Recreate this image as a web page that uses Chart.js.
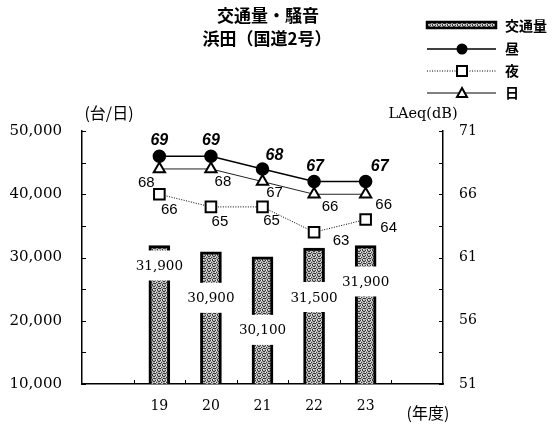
<!DOCTYPE html>
<html>
<head>
<meta charset="utf-8">
<script src="https://cdn.jsdelivr.net/npm/chart.js@4"></script>
<style>
  html, body { margin: 0; padding: 0; background: #fff; }
  #wrap { width: 555px; height: 427px; }
</style>
</head>
<body>
<div id="wrap"><canvas id="grafico"></canvas></div>
<script>
// data
const years = [19, 20, 21, 22, 23]
const traffic = [31900, 30900, 30100, 31500, 31900]
const noonDb = [69, 69, 68, 67, 67]     // 昼
const nightDb = [66, 65, 65, 63, 64]    // 夜
const dayDb = [68, 68, 67, 66, 66]      // 日
const leftTicks = [10000, 20000, 30000, 40000, 50000]
const rightTicks = [51, 56, 61, 66, 71]

// label placement (pixels, relative to the mark)
const barLabelDrop = [20, 46, 73, 49, 36]
const noonOff = [[0, -16], [0, -16], [12, -13], [1, -15], [14, -15]]
const dayOff = [[-13, 14], [12, 13], [12, 11], [16, 13], [18, 11]]
const nightOff = [[10, 16], [9, 15], [9, 14], [27, 9], [23, 8]]

const serif = "'DejaVu Serif', 'Liberation Serif', serif"
const sans = "'Liberation Sans', Arial, sans-serif"
const cjk = "'Noto Sans CJK JP', 'Noto Sans', sans-serif"

function stipple(ctx) {
  const c = document.createElement('canvas')
  c.width = 5; c.height = 5
  const g = c.getContext('2d')
  g.fillStyle = '#b4b4b4'
  g.fillRect(0, 0, 5, 5)
  g.fillStyle = '#3a3a3a'
  ;[[0, 0], [3, 1], [1, 2], [4, 3], [2, 4], [2, 0], [4, 1], [0, 3], [3, 3]].forEach(p => g.fillRect(p[0], p[1], 1, 1))
  g.fillStyle = '#eee'
  ;[[1, 0], [0, 2], [3, 4]].forEach(p => g.fillRect(p[0], p[1], 1, 1))
  return ctx.createPattern(c, 'repeat')
}

const extras = {
  id: 'extras',
  afterDatasetsDraw(chart) {
    const ctx = chart.ctx
    const x = chart.scales.x, y = chart.scales.y, y2 = chart.scales.y2
    const area = chart.chartArea
    ctx.save()
    ctx.strokeStyle = '#000'
    ctx.lineWidth = 1
    // inward tick marks
    for (let v = 10000; v <= 50000; v += 5000) {
      const py = Math.round(y.getPixelForValue(v)) + 0.5
      ctx.beginPath(); ctx.moveTo(area.left, py); ctx.lineTo(area.left + 4, py); ctx.stroke()
    }
    for (let v = 51; v <= 71; v += 2.5) {
      const py = Math.round(y2.getPixelForValue(v)) + 0.5
      ctx.beginPath(); ctx.moveTo(area.right, py); ctx.lineTo(area.right - 4, py); ctx.stroke()
    }
    for (let v = 18.5; v <= 23.5; v += 1) {
      const px = Math.round(x.getPixelForValue(v)) + 0.5
      ctx.beginPath(); ctx.moveTo(px, area.bottom); ctx.lineTo(px, area.bottom - 4); ctx.stroke()
    }

    // bar value labels on white boxes
    ctx.font = '13.5px ' + serif
    ctx.textAlign = 'center'
    ctx.textBaseline = 'middle'
    chart.getDatasetMeta(0).data.forEach((bar, i) => {
      const ty = bar.y + barLabelDrop[i]
      const txt = traffic[i].toLocaleString('en-US')
      const w = ctx.measureText(txt).width
      ctx.fillStyle = '#fff'
      ctx.fillRect(bar.x - w / 2 - 2, ty - 15, w + 4, 30)
      ctx.fillStyle = '#000'
      ctx.fillText(txt, bar.x, ty + 1)
    })

    // line value labels
    const put = (idx, vals, offs, font) => {
      ctx.font = font
      chart.getDatasetMeta(idx).data.forEach((pt, i) => {
        ctx.fillText(String(vals[i]), pt.x + offs[i][0], pt.y + offs[i][1])
      })
    }
    ctx.fillStyle = '#000'
    put(1, noonDb, noonOff, 'italic bold 16px ' + sans)
    put(2, nightDb, nightOff, '15px ' + sans)
    put(3, dayDb, dayOff, '15px ' + sans)

    // titles
    ctx.font = 'bold 17px ' + cjk
    ctx.fillText('交通量・騒音', 268, 16)
    ctx.fillText('浜田（国道2号）', 267, 39)
    ctx.font = '16px ' + cjk
    ctx.fillText('(台/日)', 109, 113)
    ctx.fillText('(年度)', 428, 413)
    ctx.font = '14.5px ' + serif
    ctx.fillText('LAeq(dB)', 423, 114)

    // legend
    const lx0 = 427, lx1 = 496, lm = 462, tx = 505
    ctx.fillStyle = stipple(ctx)
    ctx.fillRect(lx0, 22, lx1 - lx0, 6)
    ctx.lineWidth = 2.5
    ctx.strokeRect(lx0, 22, lx1 - lx0, 6)
    ctx.lineWidth = 1.5
    ctx.beginPath(); ctx.moveTo(lx0, 49); ctx.lineTo(lx1, 49); ctx.stroke()
    ctx.fillStyle = '#000'
    ctx.beginPath(); ctx.arc(lm, 49, 5.5, 0, Math.PI * 2); ctx.fill()
    ctx.lineWidth = 1
    ctx.setLineDash([1, 1.5])
    ctx.beginPath(); ctx.moveTo(lx0, 71); ctx.lineTo(lx1, 71); ctx.stroke()
    ctx.setLineDash([])
    ctx.fillStyle = '#fff'
    ctx.lineWidth = 2
    ctx.fillRect(lm - 5, 66, 10, 10); ctx.strokeRect(lm - 5, 66, 10, 10)
    ctx.lineWidth = 1
    ctx.beginPath(); ctx.moveTo(lx0, 93); ctx.lineTo(lx1, 93); ctx.stroke()
    ctx.lineWidth = 2
    ctx.beginPath(); ctx.moveTo(lm, 88); ctx.lineTo(lm + 5, 97); ctx.lineTo(lm - 5, 97); ctx.closePath()
    ctx.fill(); ctx.stroke()
    ctx.fillStyle = '#000'
    ctx.textAlign = 'left'
    ctx.font = 'bold 14px ' + cjk
    ctx.fillText('交通量', tx, 26)
    ctx.fillText('昼', tx, 49)
    ctx.fillText('夜', tx, 71)
    ctx.fillText('日', tx, 93)
    ctx.restore()
  }
}

function init() {
  const canvas = document.getElementById('grafico')
  const ctx = canvas.getContext('2d')
  const pattern = stipple(ctx)

  new Chart(canvas, {
    type: 'bar',
    data: {
      datasets: [
        {
          type: 'bar',
          label: '交通量',
          data: years.map((yr, i) => ({ x: yr, y: traffic[i] })),
          backgroundColor: pattern,
          borderColor: '#000',
          borderWidth: 3,
          borderSkipped: false,
          barThickness: 21,
          yAxisID: 'y',
          order: 2
        },
        {
          type: 'line',
          label: '昼',
          data: years.map((yr, i) => ({ x: yr, y: noonDb[i] })),
          borderColor: '#000',
          borderWidth: 1.5,
          pointStyle: 'circle',
          pointRadius: 6,
          pointBackgroundColor: '#000',
          pointBorderColor: '#000',
          yAxisID: 'y2',
          order: 1
        },
        {
          type: 'line',
          label: '夜',
          data: years.map((yr, i) => ({ x: yr, y: nightDb[i] })),
          borderColor: '#000',
          borderWidth: 1,
          borderDash: [1, 1.5],
          pointStyle: 'rect',
          pointRadius: 7.5,
          pointBorderWidth: 2,
          pointBackgroundColor: '#fff',
          pointBorderColor: '#000',
          yAxisID: 'y2',
          order: 1
        },
        {
          type: 'line',
          label: '日',
          data: years.map((yr, i) => ({ x: yr, y: dayDb[i] })),
          borderColor: '#222',
          borderWidth: 1,
          pointStyle: 'triangle',
          pointRadius: 6.5,
          pointBorderWidth: 2,
          pointBackgroundColor: '#fff',
          pointBorderColor: '#000',
          yAxisID: 'y2',
          order: 1
        }
      ]
    },
    options: {
      responsive: true,
      maintainAspectRatio: false,
      animation: false,
      layout: { padding: { top: 131, left: 0, right: 0, bottom: 0 } },
      plugins: { legend: { display: false }, title: { display: false }, tooltip: { enabled: false } },
      scales: {
        x: {
          type: 'linear',
          offset: false,
          min: 17.5,
          max: 24.5,
          afterBuildTicks: s => { s.ticks = years.map(v => ({ value: v })) },
          afterFit: s => { s.height = 43 },
          grid: { display: false, drawTicks: false, offset: false },
          border: { display: true, color: '#000', width: 1.5 },
          ticks: { color: '#000', padding: 14, font: { family: serif, size: 14 } }
        },
        y: {
          position: 'left',
          min: 10000,
          max: 50000,
          afterBuildTicks: s => { s.ticks = leftTicks.map(v => ({ value: v })) },
          afterFit: s => { s.width = 82 },
          grid: { display: false, drawTicks: false },
          border: { display: true, color: '#000', width: 1.5 },
          ticks: {
            color: '#000', padding: 20, font: { family: serif, size: 15 },
            callback: v => v.toLocaleString('en-US')
          }
        },
        y2: {
          position: 'right',
          min: 51,
          max: 71,
          afterBuildTicks: s => { s.ticks = rightTicks.map(v => ({ value: v })) },
          afterFit: s => { s.width = 112 },
          grid: { display: false, drawTicks: false },
          border: { display: true, color: '#000', width: 1.5 },
          ticks: { color: '#000', padding: 16, font: { family: serif, size: 14 } }
        }
      }
    },
    plugins: [extras]
  })
}

init()
</script>
</body>
</html>
